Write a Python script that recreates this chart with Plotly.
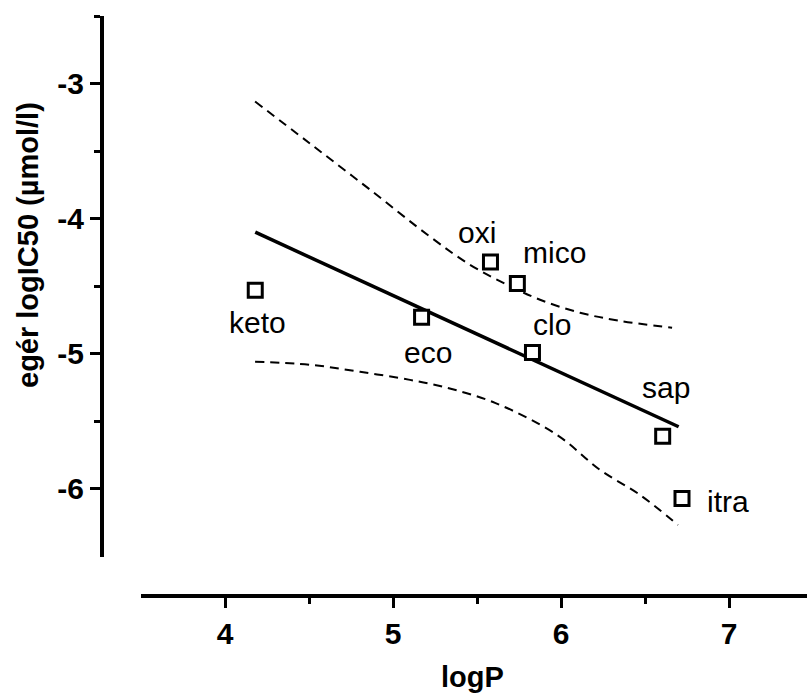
import plotly.graph_objects as go

# data
names = ["keto", "eco", "oxi", "mico", "clo", "sap", "itra"]
logP = [4.18, 5.17, 5.58, 5.74, 5.83, 6.605, 6.72]
logIC50 = [-4.53, -4.73, -4.32, -4.48, -4.99, -5.61, -6.07]

# label positions (data units)
label_x = [4.196, 5.208, 5.50, 5.964, 5.946, 6.625, 6.994]
label_y = [-4.77, -4.993, -4.104, -4.252, -4.785, -5.252, -6.096]

# fitted regression line end points
fit_x = [4.18, 6.70]
fit_y = [-4.10, -5.54]

# confidence band
upper_x = [4.179, 4.506, 4.863, 5.220, 5.458, 5.667, 5.875, 6.113, 6.351, 6.661]
upper_y = [-3.133, -3.444, -3.785, -4.133, -4.341, -4.481, -4.600, -4.696, -4.756, -4.807]
lower_x = [4.179, 4.506, 4.804, 5.101, 5.298, 5.607, 5.976, 6.232, 6.470, 6.696]
lower_y = [-5.059, -5.081, -5.133, -5.193, -5.244, -5.363, -5.600, -5.859, -6.044, -6.267]

x_ticks = [4, 5, 6, 7]
y_ticks = [-6, -5, -4, -3]

FONT = "Liberation Sans, Arial, sans-serif"

fig = go.Figure()
fig.add_trace(go.Scatter(x=upper_x, y=upper_y, mode="lines",
                         line=dict(color="black", width=2, dash="9px,6px", shape="spline"),
                         hoverinfo="skip"))
fig.add_trace(go.Scatter(x=lower_x, y=lower_y, mode="lines",
                         line=dict(color="black", width=2, dash="9px,6px", shape="spline"),
                         hoverinfo="skip"))
fig.add_trace(go.Scatter(x=fit_x, y=fit_y, mode="lines",
                         line=dict(color="black", width=3.5), hoverinfo="skip"))
fig.add_trace(go.Scatter(x=logP, y=logIC50, mode="markers",
                         marker=dict(symbol="square", size=14, color="white",
                                     line=dict(color="black", width=3)),
                         text=names))

for n, lx, ly in zip(names, label_x, label_y):
    fig.add_annotation(x=lx, y=ly, xref="x", yref="y", text=n, showarrow=False,
                       xanchor="center", yanchor="middle",
                       font=dict(family=FONT, size=30, color="black"))

# axis titles
fig.add_annotation(xref="paper", yref="paper", x=(472 - 102) / 705, y=(596 - 677) / 580,
                   text="<b>logP</b>", showarrow=False, xanchor="center", yanchor="middle",
                   font=dict(family=FONT, size=29, color="black"))
fig.add_annotation(xref="paper", yref="paper", x=(28 - 102) / 705, y=(596 - 245) / 580,
                   text="<b>egér logIC50 (µmol/l)</b>", showarrow=False, textangle=-90,
                   xanchor="center", yanchor="middle",
                   font=dict(family=FONT, size=29, color="black"))

fig.update_layout(
    width=807, height=695,
    margin=dict(l=102, r=0, t=16, b=99),
    paper_bgcolor="white", plot_bgcolor="white",
    showlegend=False,
    xaxis=dict(domain=[39 / 705, 1], range=[3.5, 7.464], anchor="free", position=0,
               showgrid=False, zeroline=False, showline=True, linecolor="black", linewidth=4,
               tickmode="array", tickvals=x_ticks, ticktext=[str(v) for v in x_ticks],
               ticks="outside", ticklen=10, tickwidth=3, tickcolor="black",
               tickfont=dict(family=FONT, size=30, color="black", weight="bold"),
               minor=dict(tickmode="array", tickvals=[4.5, 5.5, 6.5], ticks="outside",
                          ticklen=6, tickwidth=3, tickcolor="black")),
    yaxis=dict(domain=[(596 - 556.5) / 580, 1], range=[-6.5, -2.5], anchor="free", position=0,
               showgrid=False, zeroline=False, showline=True, linecolor="black", linewidth=4,
               tickmode="array", tickvals=y_ticks, ticktext=[str(v) for v in y_ticks],
               ticks="outside", ticklen=10, tickwidth=3, tickcolor="black",
               tickfont=dict(family=FONT, size=30, color="black", weight="bold"),
               minor=dict(tickmode="array", tickvals=[-5.5, -4.5, -3.5, -2.5], ticks="outside",
                          ticklen=6, tickwidth=3, tickcolor="black")),
)

fig.write_html("out.html")
